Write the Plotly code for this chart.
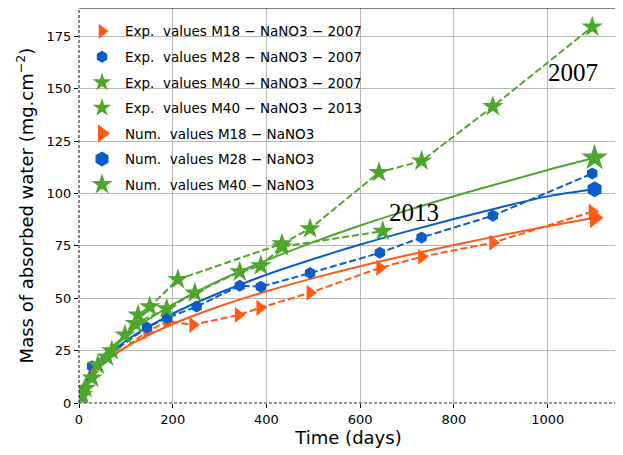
import plotly.graph_objects as go

# ---------------- data ----------------
# Experimental values (2007 campaign dates)
exp_m18_days = [7, 28, 145, 188, 243, 340, 386, 493, 642, 731, 883, 1095]
exp_m18_vals = [4, 15, 34, 39, 37.3, 42, 45.4, 52.6, 64.5, 69.8, 76.5, 91.3]

exp_m28_days = [7, 28, 145, 188, 251, 343, 388, 493, 642, 731, 883, 1095]
exp_m28_vals = [5, 17.5, 36, 40.6, 46, 56, 55.5, 62, 71.7, 79, 89.4, 109.5]

exp_m40_2007_days = [7, 28, 60, 98, 126, 151, 211, 433, 493, 640, 731, 883, 1095]
exp_m40_2007_vals = [4, 12, 22, 32.5, 42, 46, 59, 76, 83.2, 110, 115.5, 141.5, 179.5]

exp_m40_2013_days = [3, 14, 40, 70, 120, 187, 247, 343, 388, 433, 648]
exp_m40_2013_vals = [3, 7, 18, 25, 38, 45, 52.5, 62.6, 65.5, 74.6, 82]

# Numerical values (model curves)
num_days = [0, 10, 25, 50, 100, 200, 300, 400, 500, 600, 700, 800, 900, 1000, 1100]
num_m18_vals = [0, 8.4, 13.3, 18.8, 26.7, 37.7, 46.2, 53.3, 59.6, 65.3, 70.5, 75.4, 80.0, 84.3, 88.4]
num_m28_vals = [0, 8.9, 14.3, 20.6, 29.7, 42.6, 52.6, 61.2, 68.7, 75.6, 81.9, 87.8, 93.4, 98.6, 102.0]
num_m40_vals = [0, 9.4, 15.4, 22.4, 32.4, 47.0, 58.5, 68.1, 76.8, 84.7, 91.9, 98.7, 105.0, 111.2, 117.0]

x_ticks = [0, 200, 400, 600, 800, 1000]
y_ticks = [0, 25, 50, 75, 100, 125, 150, 175]

labels = [
    "Exp.\u00a0 values M18 \u2212 NaNO3 \u2212 2007",
    "Exp.\u00a0 values M28 \u2212 NaNO3 \u2212 2007",
    "Exp.\u00a0 values M40 \u2212 NaNO3 \u2212 2007",
    "Exp.\u00a0 values M40 \u2212 NaNO3 \u2212 2013",
    "Num.\u00a0 values M18 \u2212 NaNO3",
    "Num.\u00a0 values M28 \u2212 NaNO3",
    "Num.\u00a0 values M40 \u2212 NaNO3",
]
annot_text = ["2007", "2013"]
annot_x = [1055, 714]
annot_y = [157.7, 91]

ORANGE = "#FF5A17"
BLUE = "#0B5CC6"
GREEN = "#4FA62E"

fig = go.Figure()

DASH = "7px,3px"
exp_series = [
    (exp_m18_days, exp_m18_vals, ORANGE, "triangle-right", 14),
    (exp_m28_days, exp_m28_vals, BLUE, "hexagon", 12),
    (exp_m40_2007_days, exp_m40_2007_vals, GREEN, "star", 16),
    (exp_m40_2013_days, exp_m40_2013_vals, GREEN, "star", 16),
]
num_series = [
    (num_m18_vals, ORANGE, "triangle-right", 18),
    (num_m28_vals, BLUE, "hexagon", 16),
    (num_m40_vals, GREEN, "star", 20),
]

# numerical curves (solid) with a marker at the end
for vals, col, sym, sz in num_series:
    fig.add_trace(go.Scatter(x=num_days, y=vals, mode="lines", line=dict(color=col, width=2, shape="spline"),
                             showlegend=False, hoverinfo="skip"))
    fig.add_trace(go.Scatter(x=num_days[-1:], y=vals[-1:], mode="markers",
                             marker=dict(symbol=sym, size=sz, color=col, line=dict(width=0)),
                             showlegend=False))

# experimental (dashed + markers)
for xs, ys, col, sym, sz in exp_series:
    fig.add_trace(go.Scatter(x=xs, y=ys, mode="lines+markers",
                             line=dict(color=col, width=2, dash=DASH),
                             marker=dict(symbol=sym, size=sz, color=col, line=dict(width=0)),
                             showlegend=False))

# legend-only entries (marker only, as in the reference)
legend_styles = [(ORANGE, "triangle-right", 13), (BLUE, "hexagon", 12), (GREEN, "star", 14), (GREEN, "star", 14),
                 (ORANGE, "triangle-right", 16), (BLUE, "hexagon", 15), (GREEN, "star", 16)]
for i, (lab, (col, sym, sz)) in enumerate(zip(labels, legend_styles)):
    fig.add_trace(go.Scatter(x=[None], y=[None], mode="markers", name=lab, legendgroup=f"g{i}",
                             marker=dict(symbol=sym, size=sz, color=col, line=dict(width=0))))

for t, x, y in zip(annot_text, annot_x, annot_y):
    fig.add_annotation(x=x, y=y, text=t, showarrow=False,
                       font=dict(family="Liberation Serif, Times New Roman, serif", size=25, color="black"))

# frame: solid top/right, dashed left/bottom
fig.add_shape(type="line", xref="paper", yref="paper", x0=0, x1=1, y0=1, y1=1, line=dict(color="black", width=1.2))
fig.add_shape(type="line", xref="paper", yref="paper", x0=1, x1=1, y0=0, y1=1, line=dict(color="black", width=1.2))
fig.add_shape(type="line", xref="paper", yref="paper", x0=0, x1=0, y0=0, y1=1, line=dict(color="#333", width=1.2, dash="3px,2px"))
fig.add_shape(type="line", xref="paper", yref="paper", x0=0, x1=1, y0=0, y1=0, line=dict(color="#333", width=1.2, dash="3px,2px"))

# the page body adds an 8px offset, so the figure is 8px smaller and margins shifted
fig.update_layout(
    width=615, height=447,
    margin=dict(l=71, r=5, t=0, b=52),
    paper_bgcolor="white", plot_bgcolor="white",
    font=dict(family="DejaVu Sans", color="black", size=13),
    legend=dict(x=0.0, y=0.98, xanchor="left", yanchor="top", bgcolor="rgba(0,0,0,0)",
                font=dict(size=13.5), tracegroupgap=5, itemsizing="trace", itemwidth=36),
    xaxis=dict(range=[0, 1150], tickvals=x_ticks, ticks="outside", ticklen=4, tickcolor="black",
               showgrid=True, gridcolor="#b8b8b8", gridwidth=1, zeroline=False, showline=False,
               tickfont=dict(size=13), automargin=False,
               title=dict(text="Time (days)", font=dict(size=18), standoff=4)),
    yaxis=dict(range=[0, 188.5], tickvals=y_ticks, ticks="outside", ticklen=4, tickcolor="black",
               showgrid=True, gridcolor="#b8b8b8", gridwidth=1, zeroline=False, showline=False,
               tickfont=dict(size=13), automargin=False,
               title=dict(text="Mass of absorbed water (mg.cm<sup>\u22122</sup>)", font=dict(size=18), standoff=8)),
)

fig.write_html("out.html")
